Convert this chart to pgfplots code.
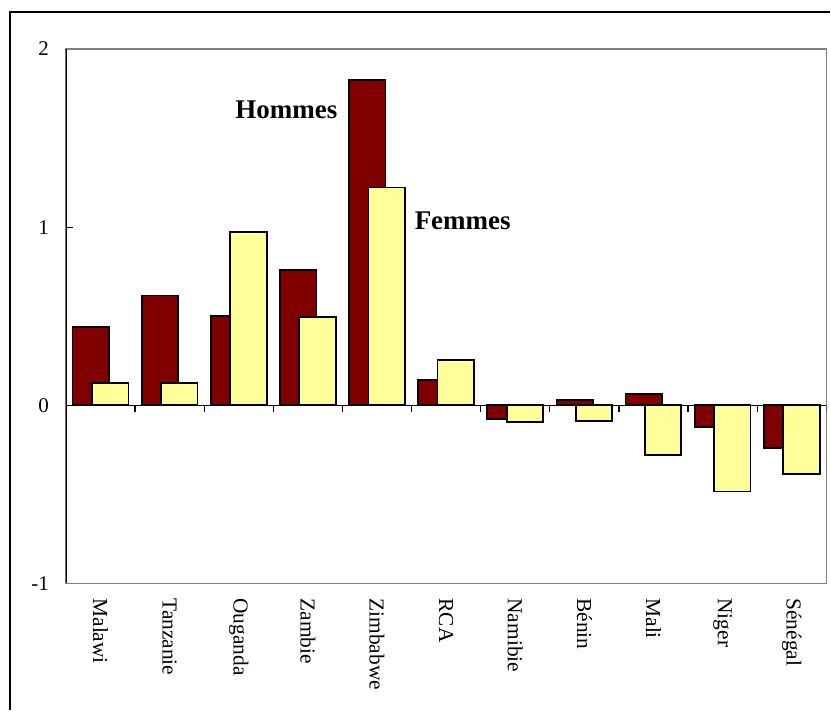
\documentclass[border=0pt]{standalone}
\usepackage{fontspec}
\setmainfont{Liberation Serif}
\usepackage{pgfplots}
\pgfplotsset{compat=1.18}
\definecolor{hommes}{RGB}{128,0,0}
\definecolor{femmes}{RGB}{255,255,153}

\begin{document}
\begin{tikzpicture}
\begin{axis}[
    at={(0,0)}, anchor=south west,
    scale only axis, width=380.5pt, height=267.5pt,
    xmin=-0.5, xmax=10.5, ymin=-1, ymax=2,
    axis line style={draw=gray, line width=0.6pt},
    xtick={0,...,10},
    xticklabels={Malawi,Tanzanie,Ouganda,Zambie,Zimbabwe,RCA,Namibie,Bénin,Mali,Niger,Sénégal},
    x tick label style={rotate=-90, anchor=west, font=\fontsize{10.7}{12}\selectfont},
    xticklabel shift=4pt,
    xtick style={draw=none},
    ytick={-1,0,1,2},
    y tick label style={font=\fontsize{10.5}{12}\selectfont, xshift=-5pt},
    ytick style={black, line width=0.6pt},
    tick align=inside,
    major tick length=3.5pt,
    ytick pos=left, xtick pos=bottom,
    /pgf/number format/assume math mode=true,
    bar width=18.25pt,
]
\addplot[ybar, bar shift=-4.85pt, fill=hommes, draw=black, line width=0.9pt] coordinates {
    (0,0.44) (1,0.616) (2,0.50) (3,0.758) (4,1.826) (5,0.14)
    (6,-0.075) (7,0.032) (8,0.062) (9,-0.123) (10,-0.241)
};
\addplot[ybar, bar shift=4.85pt, fill=femmes, draw=black, line width=0.9pt] coordinates {
    (0,0.127) (1,0.125) (2,0.973) (3,0.497) (4,1.223) (5,0.254)
    (6,-0.095) (7,-0.086) (8,-0.278) (9,-0.484) (10,-0.385)
};
\draw[black, line width=0.8pt] (axis cs:-0.5,0) -- (axis cs:10.5,0);
\pgfplotsinvokeforeach{0.5,1.5,2.5,3.5,4.5,5.5,6.5,7.5,8.5,9.5,10.5}{
    \draw[black, line width=0.6pt] (axis cs:#1,0) -- ([yshift=-3.5pt]axis cs:#1,0);
}
\draw[black, line width=0.8pt] (rel axis cs:0,0) -- (rel axis cs:0,1);
\node[font=\bfseries\fontsize{13.5}{15}\selectfont] at (axis cs:2.69,1.66) {Hommes};
\node[font=\bfseries\fontsize{13.5}{15}\selectfont] at (axis cs:5.24,1.036) {Femmes};
\end{axis}
\pgfresetboundingbox
\path (-33pt,-63.5pt) rectangle (382.5pt,292pt);
\draw[black, line width=0.75pt] (-28pt,-63.5pt) -- (-28pt,286pt) -- (382.5pt,286pt);
\end{tikzpicture}
\end{document}
